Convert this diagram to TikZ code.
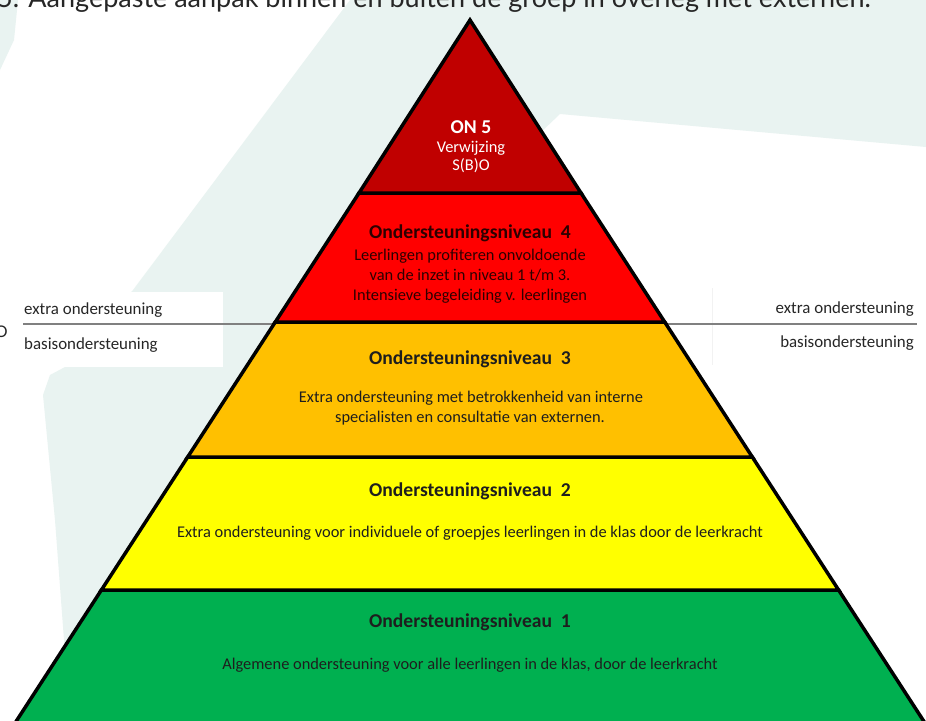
\documentclass[tikz,border=0pt]{standalone}
\usepackage{fontspec}
\setmainfont{Carlito}
\newfontfamily\titlefont{Lato}
\definecolor{bggray}{RGB}{233,243,241}
\definecolor{onfive}{RGB}{192,0,0}
\definecolor{onfour}{RGB}{255,0,0}
\definecolor{onthree}{RGB}{255,192,0}
\definecolor{ontwo}{RGB}{255,255,0}
\definecolor{onone}{RGB}{0,176,80}
\definecolor{sepline}{RGB}{128,128,128}
\definecolor{darktxt}{RGB}{30,30,30}
\definecolor{redtxt}{RGB}{45,0,0}
\begin{document}
\begin{tikzpicture}[x=1pt,y=-1pt,
  band/.style={draw=black, line width=3.5pt, line join=miter},
  head/.style={font=\fontsize{19.6}{22}\selectfont\bfseries, text=darktxt, inner sep=0pt, anchor=base},
  body/.style={font=\fontsize{16.4}{20}\selectfont, text=darktxt, inner sep=0pt, anchor=base},
  lbl/.style={font=\fontsize{16.9}{20}\selectfont, text=black!85, inner sep=0pt},
  sep/.style={draw=sepline, line width=2pt}]
\useasboundingbox (0,0) rectangle (926,720);
\clip (0,0) rectangle (926,720);
% background
\fill[white] (0,0) rectangle (926,720);
\fill[bggray] (350,0) -- (926,0) -- (926,147) -- (560,114) -- (470,200) -- (470,720) -- (70,720) -- (55,520) -- (43,395) -- (50,375) -- (65,367) -- (133,290) -- cycle;
\fill[bggray] (0,0) -- (18,0) -- (14,40) -- (0,70) -- cycle;
\fill[white] (0,292) rectangle (223,367);
\draw[gray!10, line width=0.8pt] (712,288) -- (712,365);
% title (cut off at top)
\node[anchor=base west, font=\titlefont\fontsize{27}{30}\selectfont, text=black!85, inner sep=0pt] (title) at (-3,7) {5. Aangepaste aanpak binnen en buiten de groep in overleg met externen.};
\node[anchor=base east, font=\titlefont\fontsize{16}{18}\selectfont, text=black!85, inner sep=0pt] (frag) at (8,337) {O};
% separator lines
\coordinate (ls) at (23,324);
\coordinate (le) at (274,324);
\coordinate (rs) at (666,324);
\coordinate (re) at (917,324);
\draw[sep] (ls) -- (le);
\draw[sep] (rs) -- (re);
% pyramid bands
\filldraw[band, fill=onone] (101.4,590) -- (838.6,590) -- (929.5,730) -- (10.5,730) -- cycle;
\filldraw[band, fill=ontwo] (187.7,457) -- (752.3,457) -- (838.6,590) -- (101.4,590) -- cycle;
\filldraw[band, fill=onthree] (275.3,322) -- (664.7,322) -- (752.3,457) -- (187.7,457) -- cycle;
\filldraw[band, fill=onfour] (359,193) -- (581,193) -- (664.7,322) -- (275.3,322) -- cycle;
\filldraw[band, fill=onfive] (470,20) -- (581,193) -- (359,193) -- cycle;
% ON5
\node[head, text=white] (on5h) at (471,133) {ON 5};
\node[body, text=white] (on5a) at (471,152) {Verwijzing};
\node[body, text=white] (on5b) at (471,170) {S(B)O};
% ON4
\node[head, text=redtxt] (on4h) at (470,238) {Ondersteuningsniveau\ \ 4};
\node[body, text=redtxt] (on4a) at (470,260) {Leerlingen profiteren onvoldoende};
\node[body, text=redtxt] (on4b) at (470,280) {van de inzet in niveau 1 t/m 3.};
\node[body, text=redtxt] (on4c) at (470,300) {Intensieve begeleiding v. leerlingen};
% ON3
\node[head] (on3h) at (470,364) {Ondersteuningsniveau\ \ 3};
\node[body] (on3a) at (471,402) {Extra ondersteuning met betrokkenheid van interne};
\node[body] (on3b) at (470,422) {specialisten en consultatie van externen.};
% ON2
\node[head] (on2h) at (470,496) {Ondersteuningsniveau\ \ 2};
\node[body] (on2a) at (470,537) {Extra ondersteuning voor individuele of groepjes leerlingen in de klas door de leerkracht};
% ON1
\node[head] (on1h) at (470,627) {Ondersteuningsniveau\ \ 1};
\node[body] (on1a) at (470,669) {Algemene ondersteuning voor alle leerlingen in de klas, door de leerkracht};
% side labels
\node[lbl, anchor=base west] (lx) at (24,314) {extra ondersteuning};
\node[lbl, anchor=base west] (lb) at (24,349) {basisondersteuning};
\node[lbl, anchor=base east] (rx) at (914,313) {extra ondersteuning};
\node[lbl, anchor=base east] (rb) at (914,347) {basisondersteuning};
\end{tikzpicture}
\end{document}
